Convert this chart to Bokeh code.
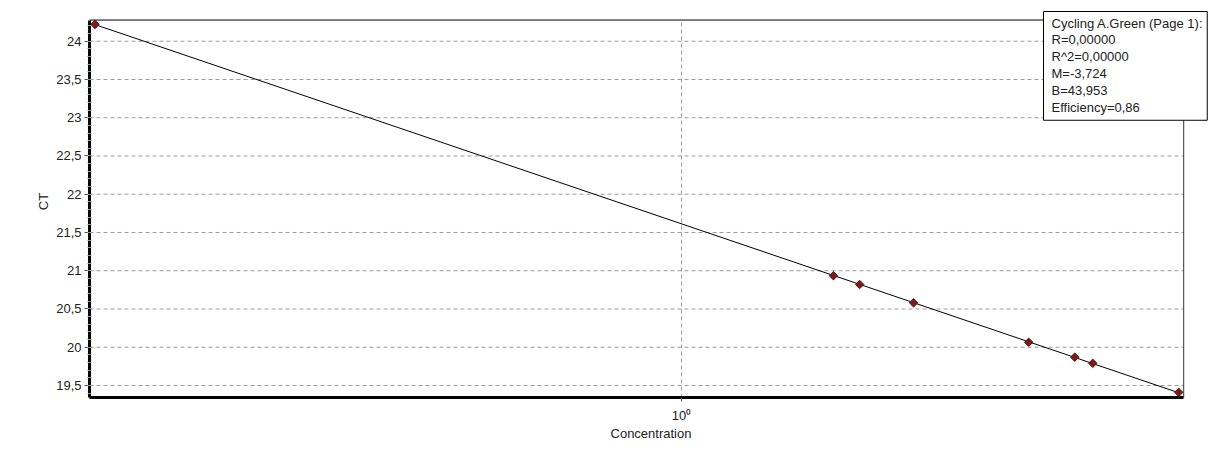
import numpy as np
from bokeh.plotting import figure
from bokeh.models import (FixedTicker, SingleIntervalTicker, CustomJSTickFormatter,
                          Label, Range1d)
from bokeh.embed import file_html
from bokeh.resources import INLINE

# ---- data ----
concentration = [0.200, 1.517, 1.630, 1.890, 2.592, 2.941, 3.090, 3.912]
ct = [24.22, 20.935, 20.82, 20.58, 20.065, 19.87, 19.79, 19.41]
x_ticks = [1.0]
x_tick_label = "10\u2070"
y_ticks = [19.5, 20.0, 20.5, 21.0, 21.5, 22.0, 22.5, 23.0, 23.5, 24.0]
stats_lines = ["Cycling A.Green (Page 1):", "R=0,00000", "R^2=0,00000",
               "M=-3,724", "B=43,953", "Efficiency=0,86"]

# axis limits of the plotting area (the drawn box)
x_lim = (0.197, 3.966)
y_lim = (19.343, 24.277)

FONT = "Liberation Sans"

# the view is a little larger than the plot box so the stats box can overhang it
p = figure(width=1214, height=454, x_axis_type="log",
           x_range=Range1d(x_lim[0], 4.292), y_range=Range1d(y_lim[0], 24.467),
           output_backend="svg", toolbar_location=None,
           min_border_left=89, min_border_right=2,
           min_border_top=5, min_border_bottom=57,
           x_axis_label="Concentration", y_axis_label="CT")
p.background_fill_color = "white"
p.border_fill_color = "white"
p.outline_line_color = None
p.xgrid.visible = False
p.ygrid.visible = False

# dashed grid lines
p.segment(x0=x_lim[0], x1=x_lim[1], y0=y_ticks, y1=y_ticks,
          line_color="#9a9a9a", line_dash="4 3", line_width=1)
p.segment(x0=x_ticks, x1=x_ticks, y0=y_lim[0], y1=y_lim[1],
          line_color="#9a9a9a", line_dash="4 3", line_width=1)

# plot box top and right borders
p.segment(x0=[x_lim[0]], x1=[x_lim[1]], y0=[y_lim[1]], y1=[y_lim[1]],
          line_color="black", line_width=1)
p.segment(x0=[x_lim[1]], x1=[x_lim[1]], y0=[y_lim[0]], y1=[y_lim[1]],
          line_color="#333333", line_width=1)

# regression line from the data
lx = np.log10(np.array(concentration))
m, b = np.polyfit(lx, np.array(ct), 1)
line_x = [min(concentration), max(concentration)]
line_y = [m * np.log10(v) + b for v in line_x]
p.line(line_x, line_y, line_color="black", line_width=1)

p.scatter(concentration, ct, marker="square", angle=np.pi / 4, size=6,
          fill_color="#7a1c1c", line_color="#5a1010", line_width=1)

# x axis
xa = p.xaxis[0]
xa.bounds = x_lim
xa.ticker = FixedTicker(ticks=x_ticks, minor_ticks=[])
xa.formatter = CustomJSTickFormatter(code="return '%s';" % x_tick_label)
xa.axis_line_width = 3
xa.axis_line_color = "black"
xa.major_tick_out = 4
xa.major_tick_in = 0
xa.major_tick_line_color = "#555555"
xa.minor_tick_line_color = None
xa.major_label_standoff = 6
xa.major_label_text_font = FONT
xa.major_label_text_font_size = "13px"
xa.major_label_text_color = "#222222"
xa.axis_label_standoff = 0
xa.axis_label_text_font = FONT
xa.axis_label_text_font_size = "13px"
xa.axis_label_text_font_style = "normal"
xa.axis_label_text_color = "#222222"

# y axis
ya = p.yaxis[0]
ya.bounds = y_lim
ya.ticker = SingleIntervalTicker(interval=0.5, num_minor_ticks=5)
ya.formatter = CustomJSTickFormatter(code="return tick.toString().replace('.', ',');")
ya.axis_line_width = 3
ya.axis_line_color = "black"
ya.major_tick_out = 5
ya.major_tick_in = 0
ya.major_tick_line_color = "#555555"
ya.minor_tick_out = 2
ya.minor_tick_in = 2
ya.minor_tick_line_color = "#999999"
ya.major_label_standoff = 3
ya.major_label_text_font = FONT
ya.major_label_text_font_size = "13px"
ya.major_label_text_color = "#222222"
ya.axis_label_standoff = 2
ya.axis_label_text_font = FONT
ya.axis_label_text_font_size = "13px"
ya.axis_label_text_font_style = "normal"
ya.axis_label_text_color = "#222222"

stats = Label(x=954, y=386, x_units="screen", y_units="screen",
              text="\n".join(stats_lines), text_align="left", text_baseline="top",
              text_font=FONT, text_font_size="13px", text_color="#222222",
              text_line_height=1.13,
              padding=dict(left=8, right=4, top=4, bottom=5),
              background_fill_color="white", background_fill_alpha=1.0,
              border_line_color="black", border_line_width=1)
p.add_layout(stats)

open("out.html", "w").write(file_html(p, INLINE))
